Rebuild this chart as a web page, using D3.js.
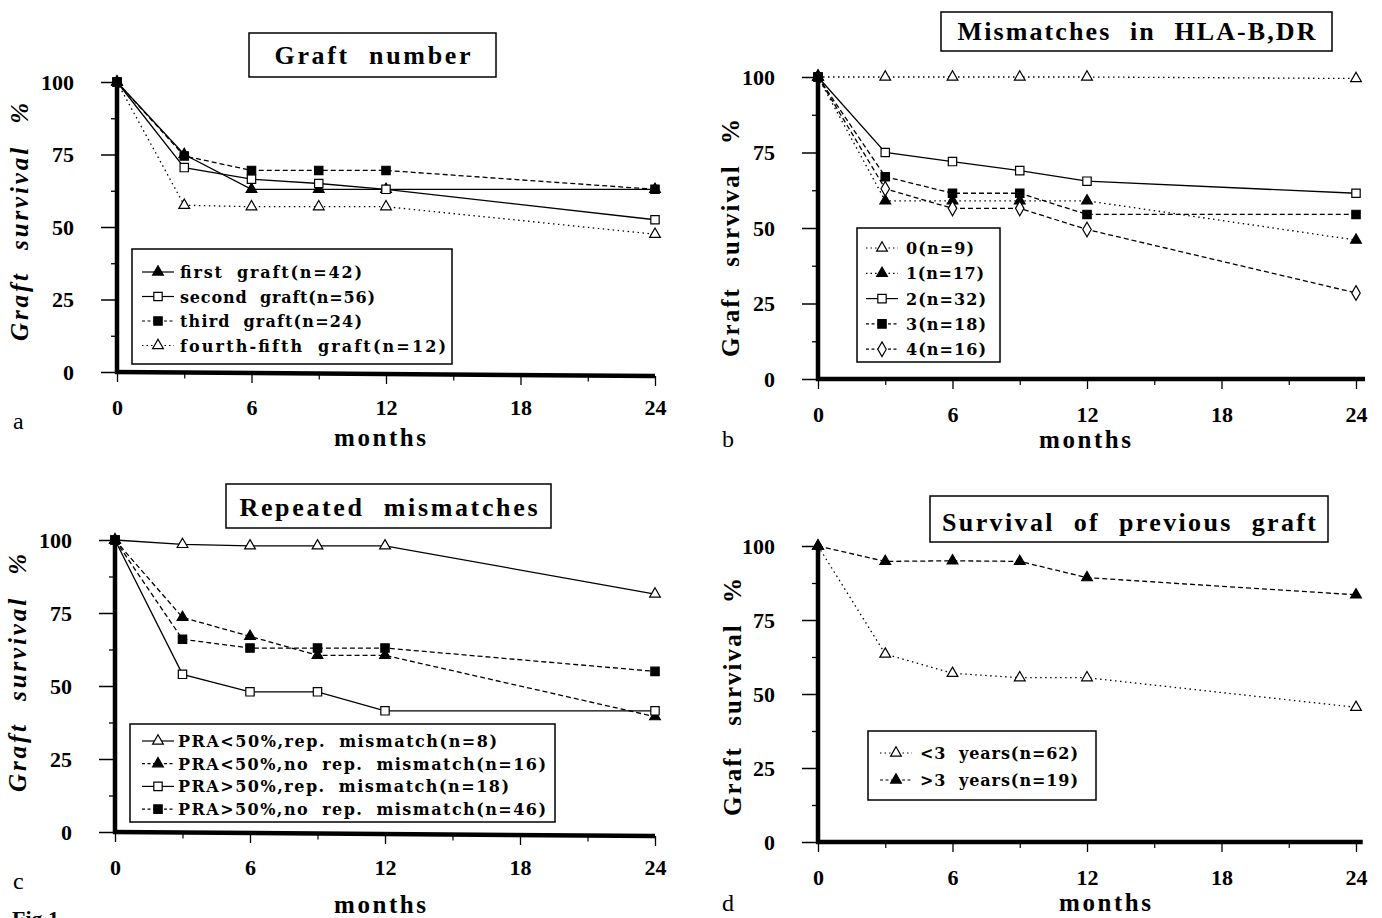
<!DOCTYPE html>
<html>
<head>
<meta charset="utf-8">
<script src="https://d3js.org/d3.v7.min.js"></script>
<style>
  body { margin: 0; background: #fff; }
  svg text { font-family: 'Liberation Serif', 'DejaVu Serif', serif; fill: #000; }
</style>
</head>
<body>
<svg id="chart" width="1382" height="918"></svg>
<script>
// shared axis values
const months = [0, 3, 6, 9, 12, 24];
const monthTicks = [0, 6, 12, 18, 24];
const minorMonthTicks = [3, 9, 15, 21];
const survTicks = [0, 25, 50, 75, 100];
const minorSurvTicks = [12.5, 37.5, 62.5, 87.5];

// panel a - graft number
const aTitle = "Graft number";
const aNames = ["first graft(n=42)", "second graft(n=56)", "third graft(n=24)", "fourth-fifth graft(n=12)"];
const aFirst = [100, 75, 63, 63, 63, 63];
const aSecond = [100, 70.5, 66.5, 65, 63, 52.5];
const aThird = [100, 74.5, 69.5, 69.5, 69.5, 63];
const aFourth = [100, 57.5, 57, 57, 57, 47.5];

// panel b - mismatches
const bTitle = "Mismatches in HLA-B,DR";
const bNames = ["0(n=9)", "1(n=17)", "2(n=32)", "3(n=18)", "4(n=16)"];
const b0 = [100, 100, 100, 100, 100, 99.5];
const b1 = [100, 59, 59, 59, 59, 46];
const b2 = [100, 75, 72, 69, 65.5, 61.5];
const b3 = [100, 67, 61.5, 61.5, 54.5, 54.5];
const b4 = [100, 63, 56.5, 56.5, 49.5, 28.5];

// panel c - repeated mismatches
const cTitle = "Repeated mismatches";
const cNames = ["PRA<50%,rep. mismatch(n=8)", "PRA<50%,no rep. mismatch(n=16)", "PRA>50%,rep. mismatch(n=18)", "PRA>50%,no rep. mismatch(n=46)"];
const cLowRep = [100, 98.5, 98, 98, 98, 81.5];
const cLowNoRep = [100, 73.5, 67, 60.5, 60.5, 39.5];
const cHighRep = [100, 54, 48, 48, 41.5, 41.5];
const cHighNoRep = [100, 66, 63, 63, 63, 55];

// panel d - survival of previous graft
const dTitle = "Survival of previous graft";
const dNames = ["<3 years(n=62)", ">3 years(n=19)"];
const dShort = [100, 63.5, 57, 55.5, 55.5, 45.5];
const dLong = [100, 94.8, 95, 94.8, 89.3, 83.5];

const SOLID = null, DASH = "5,3", DOT = "1.5,3.5";

const panels = [
  { letter: "a", title: aTitle, x0: 117, x1: 655, yTop: 82, yBot: 372, sag: 4, axisEnd: 24,
    titleBox: [249, 33, 247, 44], titleY: 64, titleLen: 196,
    legendBox: [132, 249, 320, 115], legendY: 272, legendGap: 24.5, sampleX: 142, textX: 180, legendLen: [182, 195, 182, 266],
    yLabelX: 28, yLabelY: 222, italic: true, letterXY: [13, 429], monthsXY: [380, 446],
    series: [
      { name: aNames[0], values: aFirst, shape: "tri", fill: true, dash: SOLID },
      { name: aNames[1], values: aSecond, shape: "sq", fill: false, dash: SOLID },
      { name: aNames[2], values: aThird, shape: "sq", fill: true, dash: DASH },
      { name: aNames[3], values: aFourth, shape: "tri", fill: false, dash: DOT }
    ] },
  { letter: "b", title: bTitle, x0: 818, x1: 1356, yTop: 77, yBot: 379, sag: 0, axisEnd: 24.4,
    titleBox: [941, 12, 391, 39], titleY: 40, titleLen: 358,
    legendBox: [857, 228, 143, 134], legendY: 248, legendGap: 25.3, sampleX: 866, textX: 906, legendLen: [68, 78, 80, 80, 80],
    yLabelX: 739, yLabelY: 238, italic: false, letterXY: [722, 447], monthsXY: [1085, 448],
    series: [
      { name: bNames[0], values: b0, shape: "tri", fill: false, dash: DOT },
      { name: bNames[1], values: b1, shape: "tri", fill: true, dash: DOT },
      { name: bNames[2], values: b2, shape: "sq", fill: false, dash: SOLID },
      { name: bNames[3], values: b3, shape: "sq", fill: true, dash: DASH },
      { name: bNames[4], values: b4, shape: "dia", fill: false, dash: DASH }
    ] },
  { letter: "c", title: cTitle, x0: 115, x1: 655, yTop: 540, yBot: 832, sag: 4, axisEnd: 24,
    titleBox: [226, 484, 325, 44], titleY: 516, titleLen: 298,
    legendBox: [130, 724, 425, 98], legendY: 741, legendGap: 22.7, sampleX: 142, textX: 178, legendLen: [319, 368, 331, 368],
    yLabelX: 26, yLabelY: 673, italic: true, letterXY: [13, 889], monthsXY: [380, 913],
    series: [
      { name: cNames[0], values: cLowRep, shape: "tri", fill: false, dash: SOLID },
      { name: cNames[1], values: cLowNoRep, shape: "tri", fill: true, dash: DASH },
      { name: cNames[2], values: cHighRep, shape: "sq", fill: false, dash: SOLID },
      { name: cNames[3], values: cHighNoRep, shape: "sq", fill: true, dash: DASH }
    ] },
  { letter: "d", title: dTitle, x0: 818, x1: 1356, yTop: 546, yBot: 842, sag: 0, axisEnd: 24.3,
    titleBox: [930, 496, 398, 46], titleY: 531, titleLen: 374,
    legendBox: [868, 731, 228, 69], legendY: 753, legendGap: 27, sampleX: 880, textX: 920, legendLen: [158, 158],
    yLabelX: 741, yLabelY: 697, italic: false, letterXY: [722, 911], monthsXY: [1105, 911],
    series: [
      { name: dNames[0], values: dShort, shape: "tri", fill: false, dash: DOT },
      { name: dNames[1], values: dLong, shape: "tri", fill: true, dash: DASH }
    ] }
];

const svg = d3.select("#chart");

function symbolFor(shape) {
  if (shape === "sq") return d3.symbol(d3.symbolSquare, 70);
  if (shape === "dia") return d3.symbol(d3.symbolDiamond, 62);
  return d3.symbol(d3.symbolTriangle, 50);
}

function drawMarker(g, shape, filled, x, y) {
  g.append("path")
    .attr("d", symbolFor(shape)())
    .attr("transform", "translate(" + x + "," + y + ")")
    .attr("fill", filled ? "#000" : "#fff")
    .attr("stroke", "#000")
    .attr("stroke-width", 1.2);
}

panels.forEach(function(p) {
  const g = svg.append("g").attr("class", "panel-" + p.letter);
  const x = d3.scaleLinear().domain([0, 24]).range([p.x0, p.x1]);
  const y = d3.scaleLinear().domain([0, 100]).range([p.yBot, p.yTop]);

  // y axis ticks
  const yAxis = g.append("g")
    .attr("transform", "translate(" + p.x0 + ",0)")
    .call(d3.axisLeft(y).tickValues(survTicks).tickSize(16).tickPadding(27));
  yAxis.select(".domain").remove();
  yAxis.selectAll("line").attr("stroke", "#000").attr("stroke-width", 1.5);
  yAxis.selectAll("text")
    .style("font-family", "'Liberation Serif', serif")
    .style("font-weight", "bold").style("font-size", "22px");
  const yMinor = g.append("g")
    .attr("transform", "translate(" + p.x0 + ",0)")
    .call(d3.axisLeft(y).tickValues(minorSurvTicks).tickSize(6).tickFormat(""));
  yMinor.select(".domain").remove();
  yMinor.selectAll("line").attr("stroke", "#000").attr("stroke-width", 1.3);

  // x axis ticks
  const xAxis = g.append("g")
    .attr("transform", "translate(0," + p.yBot + ")")
    .call(d3.axisBottom(x).tickValues(monthTicks).tickSize(10).tickPadding(17));
  xAxis.select(".domain").remove();
  xAxis.selectAll("line").attr("stroke", "#000").attr("stroke-width", 1.3)
    .attr("transform", function(d) { return "translate(0," + (p.sag * d / 24) + ")"; });
  xAxis.selectAll("text")
    .style("font-family", "'Liberation Serif', serif")
    .style("font-weight", "bold").style("font-size", "22px");
  const xMinor = g.append("g")
    .attr("transform", "translate(0," + p.yBot + ")")
    .call(d3.axisBottom(x).tickValues(minorMonthTicks).tickSize(6).tickFormat(""));
  xMinor.select(".domain").remove();
  xMinor.selectAll("line").attr("stroke", "#000").attr("stroke-width", 1.2)
    .attr("transform", function(d) { return "translate(0," + (p.sag * d / 24) + ")"; });

  // thick axis lines
  g.append("line")
    .attr("x1", x(0)).attr("x2", x(0)).attr("y1", y(100)).attr("y2", y(0) + 2)
    .attr("stroke", "#000").attr("stroke-width", 4.5);
  g.append("line")
    .attr("x1", x(0) - 2).attr("x2", x(p.axisEnd))
    .attr("y1", y(0)).attr("y2", y(0) + p.sag)
    .attr("stroke", "#000").attr("stroke-width", 4.5);

  // series lines and markers
  const line = d3.line().x(function(d, i) { return x(months[i]); }).y(function(d) { return y(d); });
  p.series.forEach(function(s) {
    g.append("path")
      .attr("d", line(s.values))
      .attr("fill", "none")
      .attr("stroke", "#000")
      .attr("stroke-width", 1.3)
      .attr("stroke-dasharray", s.dash);
    s.values.forEach(function(v, i) {
      drawMarker(g, s.shape, s.fill || i === 0, x(months[i]), y(v));
    });
  });

  // title box
  g.append("rect")
    .attr("x", p.titleBox[0]).attr("y", p.titleBox[1])
    .attr("width", p.titleBox[2]).attr("height", p.titleBox[3])
    .attr("fill", "#fff").attr("stroke", "#000").attr("stroke-width", 1.5);
  g.append("text")
    .attr("x", p.titleBox[0] + p.titleBox[2] / 2).attr("y", p.titleY)
    .attr("text-anchor", "middle")
    .attr("textLength", p.titleLen).attr("lengthAdjust", "spacing")
    .style("font-weight", "bold").style("font-size", "26px")
    .style("word-spacing", "10px")
    .text(p.title);

  // legend
  const lb = p.legendBox;
  g.append("rect")
    .attr("x", lb[0]).attr("y", lb[1]).attr("width", lb[2]).attr("height", lb[3])
    .attr("fill", "#fff").attr("stroke", "#000").attr("stroke-width", 1.5);
  p.series.forEach(function(s, i) {
    const ly = p.legendY + i * p.legendGap;
    g.append("line")
      .attr("x1", p.sampleX).attr("x2", p.sampleX + 32)
      .attr("y1", ly).attr("y2", ly)
      .attr("stroke", "#000").attr("stroke-width", 1.2)
      .attr("stroke-dasharray", s.dash ? (s.dash === DOT ? "1.5,3" : "3,2.5") : null);
    drawMarker(g, s.shape, s.fill, p.sampleX + 16, ly);
    g.append("text")
      .attr("x", p.textX).attr("y", ly + 6)
      .attr("textLength", p.legendLen[i]).attr("lengthAdjust", "spacing")
      .style("font-family", "'DejaVu Serif', serif")
      .style("font-weight", "bold").style("font-size", "16px")
      .style("word-spacing", "6px")
      .text(s.name);
  });

  // axis titles
  g.append("text")
    .attr("transform", "translate(" + p.yLabelX + "," + p.yLabelY + ") rotate(-90)")
    .attr("text-anchor", "middle")
    .attr("textLength", 238).attr("lengthAdjust", "spacing")
    .style("font-weight", "bold").style("font-size", "25px")
    .style("font-style", p.italic ? "italic" : "normal")
    .style("word-spacing", "12px")
    .text("Graft survival %");
  g.append("text")
    .attr("x", p.monthsXY[0]).attr("y", p.monthsXY[1])
    .attr("text-anchor", "middle")
    .attr("textLength", 92).attr("lengthAdjust", "spacing")
    .style("font-weight", "bold").style("font-size", "25px")
    .text("months");
  g.append("text")
    .attr("x", p.letterXY[0]).attr("y", p.letterXY[1])
    .style("font-size", "24px")
    .text(p.letter);
});

// figure label, cut by the bottom edge as in the scan
svg.append("text")
  .attr("x", 12).attr("y", 926)
  .style("font-weight", "bold").style("font-size", "22px")
  .text("Fig.1");
</script>
</body>
</html>
